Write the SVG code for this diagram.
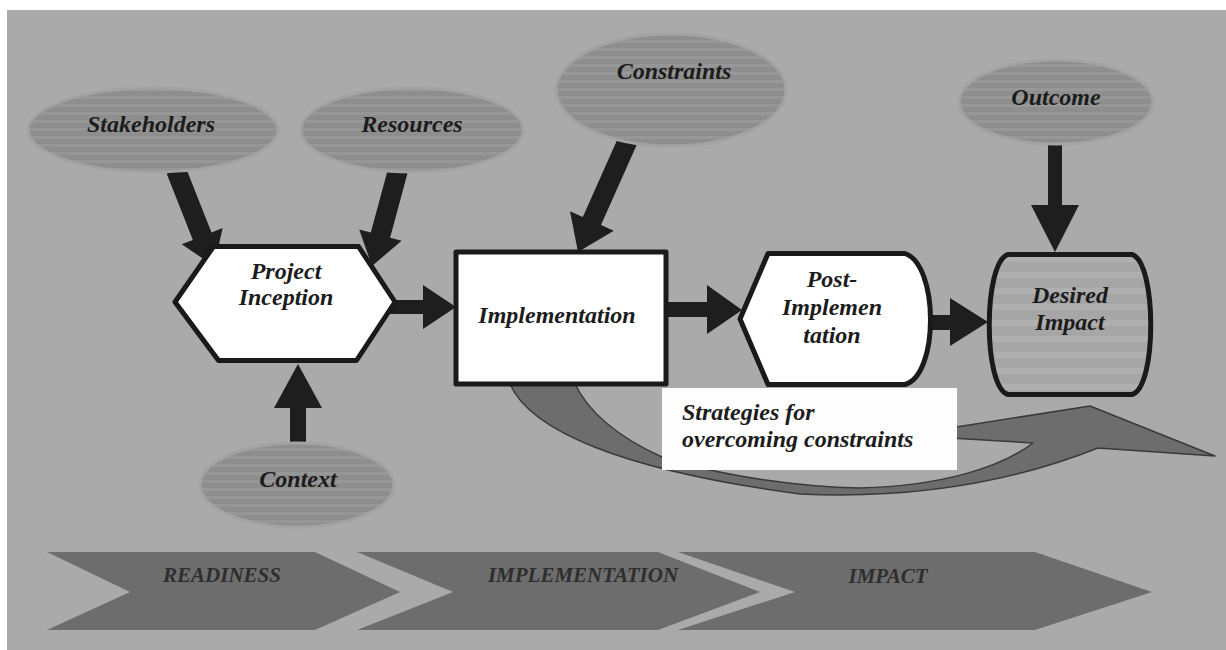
<svg xmlns="http://www.w3.org/2000/svg" width="1226" height="650" viewBox="0 0 1226 650">
  <defs>
    <pattern id="ovalStripes" patternUnits="userSpaceOnUse" width="10" height="8">
      <rect width="10" height="8" fill="#8e8e8e"/>
      <rect width="10" height="3" fill="#979797"/>
    </pattern>
    <pattern id="impactStripes" patternUnits="userSpaceOnUse" width="10" height="16">
      <rect width="10" height="16" fill="#a6a6a6"/>
      <rect width="10" height="6" fill="#afafaf"/>
    </pattern>
    <style>
      .oval { fill: url(#ovalStripes); stroke: #a3a3a3; stroke-width: 3; }
      .box { fill: #ffffff; stroke: #1a1a1a; stroke-width: 5; stroke-linejoin: round; }
      .lbl { font-family: "Liberation Serif", "Times New Roman", serif; font-style: italic; font-weight: bold; font-size: 24px; fill: #1c1c1c; text-anchor: middle; }
      .arrow { fill: #1e1e1e; }
      .ribbon { fill: #6d6d6d; stroke: #3a3a3a; stroke-width: 1.5; stroke-linejoin: round; }
      .chev { fill: #6d6d6d; }
      .phase { font-family: "Liberation Serif", "Times New Roman", serif; font-style: italic; font-weight: bold; font-size: 21px; fill: #2e2e2e; text-anchor: middle; }
    </style>
  </defs>

  <!-- page -->
  <rect width="1226" height="650" fill="#ffffff"/>
  <rect x="7" y="10" width="1219" height="640" fill="#aaaaaa"/>

  <!-- phase band -->
  <g id="phases">
    <polygon class="chev" points="47,552 315,552 400,592 315,630 47,630 130,592"/>
    <polygon class="chev" points="357,552 658,552 760,592 658,630 357,630 453,592"/>
    <polygon class="chev" points="678,552 1035,552 1152,592 1035,630 678,630 795,592"/>
    <text class="phase" x="222" y="582">READINESS</text>
    <text class="phase" x="583" y="582">IMPLEMENTATION</text>
    <text class="phase" x="888" y="583">IMPACT</text>
  </g>

  <!-- connectors -->
  <g id="connectors">
    <polygon class="arrow" points="166.7,173.7 192.9,239.9 181.7,244.3 214,266 222.7,228.1 211.5,232.5 185.3,166.3"/>
    <polygon class="arrow" points="388.4,167.4 370.8,232.5 359.2,229.4 372,266 401.6,240.8 390.1,237.7 407.7,172.6"/>
    <polygon class="arrow" points="618.9,135.9 582.8,216.9 570.0,211.2 578,252 613.8,230.8 601.0,225.1 637.1,144.1"/>
    <polygon class="arrow" points="1048,143 1048,205 1031,205 1055,252 1079,205 1062,205 1062,143"/>
    <polygon class="arrow" points="290,444 290,408 274,408 298,364 322,408 306,408 306,444"/>
    <polygon class="arrow" points="390,300 423,300 423,285 456,307 423,329 423,314 390,314"/>
    <polygon class="arrow" points="665,302 707,302 707,285 742,310 707,334 707,317 665,317"/>
    <polygon class="arrow" points="928,315 950,315 950,298 988,322 950,346 950,330 928,330"/>
    <!-- curved feedback arrow -->
    <path class="ribbon" d="M510,384 C530,430 620,470 800,494 C930,500 1030,475 1098,448 L1215,456 L1090,406 L950,428 L950,438 L1033,443 C1000,468 940,486 860,488 C800,487 720,476 662,457 C620,438 590,415 575,384 Z"/>
  </g>

  <!-- nodes -->
  <g id="stakeholders">
    <ellipse class="oval" cx="153" cy="130" rx="125" ry="42"/>
    <text class="lbl" x="151" y="132">Stakeholders</text>
  </g>
  <g id="resources">
    <ellipse class="oval" cx="412" cy="130" rx="111" ry="42"/>
    <text class="lbl" x="412" y="132">Resources</text>
  </g>
  <g id="constraints">
    <ellipse class="oval" cx="671" cy="90" rx="115" ry="56"/>
    <text class="lbl" x="674" y="79">Constraints</text>
  </g>
  <g id="outcome">
    <ellipse class="oval" cx="1056" cy="102" rx="97" ry="42"/>
    <text class="lbl" x="1056" y="105">Outcome</text>
  </g>
  <g id="context">
    <ellipse class="oval" cx="297" cy="485" rx="97" ry="42"/>
    <text class="lbl" x="298" y="487">Context</text>
  </g>

  <g id="project-inception">
    <polygon class="box" points="175,302 213.5,246.5 358.5,246.5 395,302 356.5,360.5 218.5,360.5"/>
    <text class="lbl" x="286" y="279">Project</text>
    <text class="lbl" x="286" y="305">Inception</text>
  </g>

  <g id="implementation">
    <rect class="box" x="456" y="252" width="210" height="132" stroke-width="6" stroke-linejoin="miter"/>
    <text class="lbl" x="557" y="323">Implementation</text>
  </g>

  <g id="post-implementation">
    <path class="box" d="M768,253.5 L905,253.5 C939,265 939,375 905,384.5 L768,384.5 L740,319 Z"/>
    <text class="lbl" x="832" y="287">Post-</text>
    <text class="lbl" x="832" y="315">Implemen</text>
    <text class="lbl" x="832" y="343">tation</text>
  </g>

  <g id="desired-impact">
    <path d="M1008,254.5 L1132,254.5 C1157,262 1157,388 1132,394.5 L1008,394.5 C983,388 983,262 1008,254.5 Z" fill="url(#impactStripes)" stroke="#1a1a1a" stroke-width="5" stroke-linejoin="round"/>
    <text class="lbl" x="1070" y="303">Desired</text>
    <text class="lbl" x="1070" y="330">Impact</text>
  </g>

  <g id="strategies">
    <rect x="662" y="388" width="295" height="82" fill="#fdfdfd"/>
    <text class="lbl" x="682" y="420" style="text-anchor:start">Strategies for</text>
    <text class="lbl" x="682" y="447" style="text-anchor:start">overcoming constraints</text>
  </g>
</svg>
